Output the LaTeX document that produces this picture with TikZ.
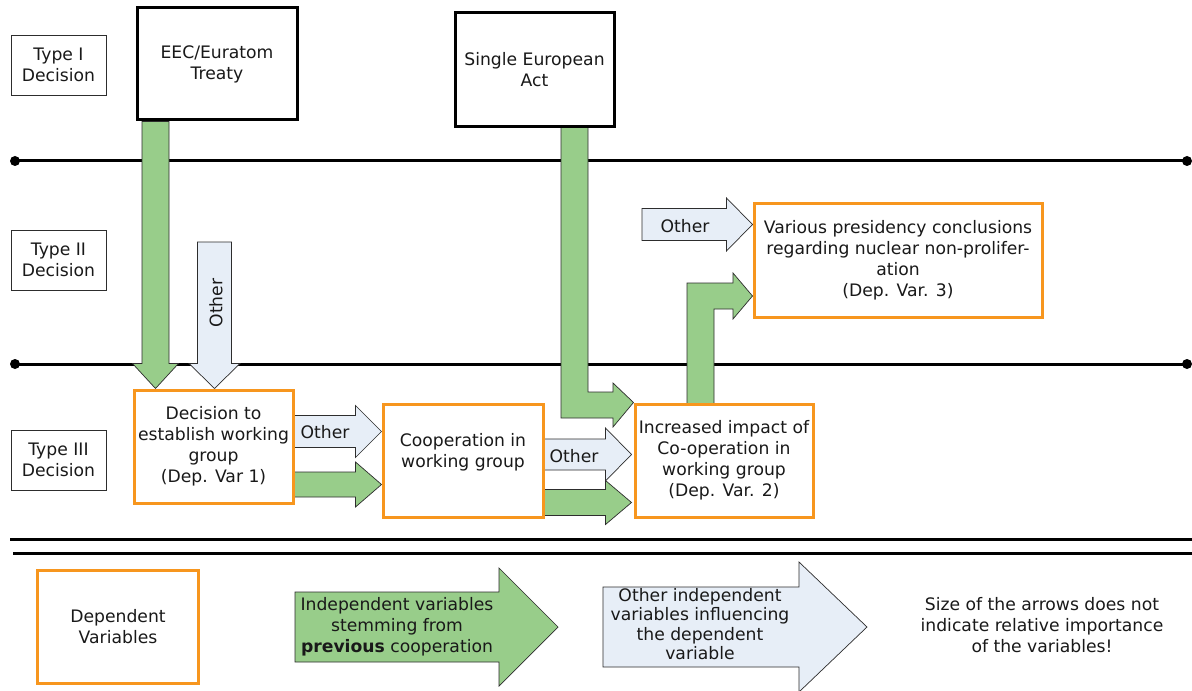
\documentclass[tikz,border=0pt]{standalone}
\usepackage{fontspec}
\setmainfont{DejaVu Sans}
\usetikzlibrary{calc}

\definecolor{depOrange}{RGB}{247,150,30}
\definecolor{prevGreen}{RGB}{152,205,138}
\definecolor{otherBlue}{RGB}{231,238,247}
\definecolor{edgeGray}{RGB}{45,45,45}
\definecolor{inkGray}{RGB}{25,25,25}

\pgfdeclarelayer{paper}
\pgfdeclarelayer{back}
\pgfdeclarelayer{mid}
\pgfsetlayers{paper,back,mid,main}

% right-pointing block arrow: style, tail point (x used), tip point, shaft half-width, head half-width, head length
\newcommand\blockright[6]{%
  \draw[#1] let \p1=#2, \p2=#3 in
    (\x1,\y2+#4) -- (\x2-#6,\y2+#4) -- (\x2-#6,\y2+#5) -- (\x2,\y2)
    -- (\x2-#6,\y2-#5) -- (\x2-#6,\y2-#4) -- (\x1,\y2-#4) -- cycle;}
% downward block arrow: style, tail point (y used), tip point, shaft half-width, head half-width, head length
\newcommand\blockdown[6]{%
  \draw[#1] let \p1=#2, \p2=#3 in
    (\x2-#4,\y1) -- (\x2-#4,\y2+#6) -- (\x2-#5,\y2+#6) -- (\x2,\y2)
    -- (\x2+#5,\y2+#6) -- (\x2+#4,\y2+#6) -- (\x2+#4,\y1) -- cycle;}

\tikzset{
  every node/.style={font=\fontsize{17.2bp}{21bp}\selectfont, text=inkGray},
  typebox/.style={draw=edgeGray, line width=0.8bp, minimum width=95bp,
    minimum height=60bp, align=center, inner sep=0pt},
  treatybox/.style={draw=black, line width=3bp, fill=white, align=center, inner sep=0pt},
  depbox/.style={draw=depOrange, line width=3bp, fill=white, align=center, inner sep=0pt},
  prevarrow/.style={fill=prevGreen, draw=edgeGray, line width=0.7bp},
  otherarrow/.style={fill=otherBlue, draw=edgeGray, line width=0.7bp},
  timeline/.style={line width=3bp, draw=black},
  lbl/.style={inner sep=0pt, align=center},
}

\begin{document}
\begin{tikzpicture}[x=1bp, y=-1bp]
\begin{pgfonlayer}{paper}
  \fill[white] (0,0) rectangle (1192,691);
\end{pgfonlayer}
\useasboundingbox (0,0) rectangle (1192,691);

% decision-type labels
\node[typebox] (typeI)   at (58.5,65)  {Type I\\Decision};
\node[typebox] (typeII)  at (58.5,260) {Type II\\Decision};
\node[typebox] (typeIII) at (58.5,460) {Type III\\Decision};

% treaties
\node[treatybox, minimum width=160bp, minimum height=112bp] (eec) at (217,64) {EEC/Euratom\\Treaty};
\node[treatybox, minimum width=159bp, minimum height=114bp] (sea) at (534.5,70) {Single European\\Act};

% dependent variables
\node[depbox, minimum width=159bp, minimum height=113bp] (dv1) at (213.5,446.5)
  {Decision to\\establish working\\group\\(Dep. Var 1)};
\node[depbox, minimum width=160bp, minimum height=113bp] (coop) at (463,460.5)
  {Cooperation in\\working group\\\mbox{}};
\node[depbox, minimum width=178bp, minimum height=113bp] (inc) at (724,460.5)
  {Increased impact of\\Co-operation in\\working group\\(Dep. Var. 2)};
\node[depbox, minimum width=288bp, minimum height=113bp] (dv3) at (898,260.5)
  {Various presidency conclusions\\regarding nuclear non-prolifer-\\ation\\(Dep. Var. 3)};

% legend
\node[depbox, minimum width=160bp, minimum height=113bp] (legdep) at (118,626.5) {Dependent\\Variables};

% separating lines
\begin{pgfonlayer}{back}
  \draw[timeline] (15,161) coordinate (l1a) -- (1187,161) coordinate (l1b);
  \fill (l1a) circle (5bp);
  \fill (l1b) circle (5bp);
  \draw[timeline] (15,364) coordinate (l2a) -- (1187,364) coordinate (l2b);
  \fill (l2a) circle (5bp);
  \fill (l2b) circle (5bp);
  \draw[timeline] (10,539) -- (1192,539);
  \draw[timeline] (13,553) -- (1192,553);
\end{pgfonlayer}

% influence arrows
\begin{pgfonlayer}{mid}
  \blockdown{prevarrow}{(eec.south)}{($(dv1.north west)+(23,0)$)}{13.5bp}{23bp}{25bp}
  \coordinate (otherTop) at (216,242);
  \blockdown{otherarrow}{(otherTop)}{($(dv1.north west)+(82,0)$)}{17bp}{25.5bp}{25bp}

  \blockright{otherarrow}{(dv1.east)}{($(coop.north west)+(0,29)$)}{16bp}{26bp}{26bp}
  \blockright{prevarrow}{(dv1.east)}{($(coop.north west)+(0,82)$)}{12.5bp}{22.5bp}{26bp}

  \blockright{otherarrow}{(coop.east)}{($(inc.north west)+(-2,52)$)}{15.5bp}{26.5bp}{26bp}
  \blockright{prevarrow}{(coop.east)}{($(inc.north west)+(-2,100)$)}{13bp}{22bp}{26bp}

  \coordinate (otherLeft) at (642,226);
  \blockright{otherarrow}{(otherLeft)}{($(dv3.north west)+(0,22)$)}{16bp}{26.5bp}{26bp}

  % Single European Act down and into the working-group box
  \draw[prevarrow] (561,127) -- (561,418) -- (613,418) -- (613,427) -- (inc.north west)
    -- (613,383) -- (613,392) -- (588,392) -- (588,127) -- cycle;
  % working-group box up to the presidency conclusions
  \draw[prevarrow] (687,404) -- (687,283) -- (733,283) -- (733,273) -- (dv3.west |- 0,296)
    -- (733,319) -- (733,309) -- (714,309) -- (714,404) -- cycle;

  % legend arrows
  \coordinate (legGreenTail) at (295,627);
  \coordinate (legGreenTip) at (558,627);
  \blockright{prevarrow}{(legGreenTail)}{(legGreenTip)}{35bp}{59bp}{59bp}
  \coordinate (legBlueTail) at (603,627);
  \coordinate (legBlueTip) at (867,627);
  \blockright{otherarrow}{(legBlueTail)}{(legBlueTip)}{40bp}{65bp}{68bp}
\end{pgfonlayer}

% arrow labels
\node[lbl, rotate=90] (otherV) at (216,303) {Other};
\node[lbl] (otherA) at (325,432) {Other};
\node[lbl] (otherB) at (574,456) {Other};
\node[lbl] (otherC) at (685,226) {Other};

\node[lbl] (legGreenText) at (397,627) {Independent variables\\stemming from\\\textbf{previous} cooperation};
\node[lbl, font=\fontsize{17.2bp}{19.5bp}\selectfont] (legBlueText) at (700,624) {Other independent\\variables influencing\\the dependent\\variable};
\node[lbl] (note) at (1042,625) {Size of the arrows does not\\indicate relative importance\\of the variables!};
\end{tikzpicture}
\end{document}
